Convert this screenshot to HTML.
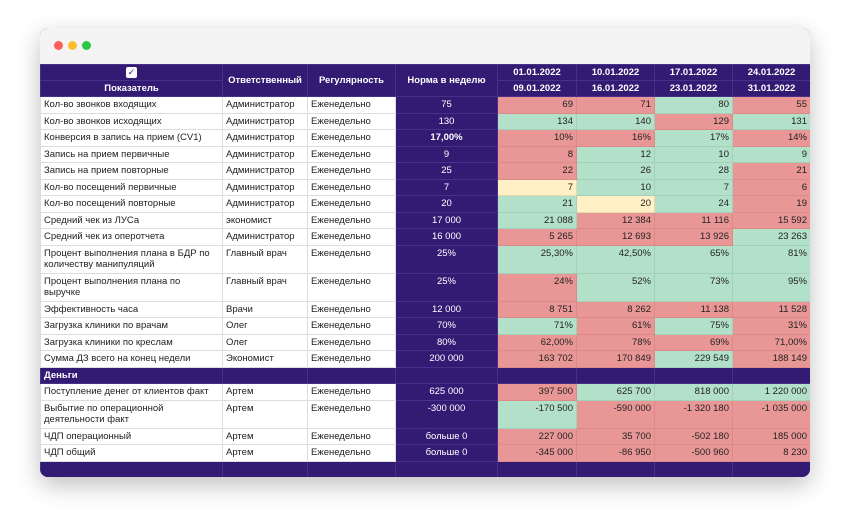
<!DOCTYPE html>
<html><head><meta charset="utf-8"><style>
body{margin:0;width:850px;height:530px;background:#fff;font-family:"Liberation Sans","DejaVu Sans",sans-serif;overflow:hidden;position:relative}
.win{position:absolute;left:40px;top:28px;width:770px;height:449px;border-radius:8px;overflow:hidden;background:#331b74;box-shadow:0 8px 24px rgba(0,0,0,.25)}
.bar{height:36px;background:#f4f4f4;position:relative}
.dot{position:absolute;top:13px;width:9px;height:9px;border-radius:50%}
table{border-collapse:collapse;table-layout:fixed;width:770px;font-size:9.5px;color:#222}
tr{height:16.5px}
td{padding:0 3px;border:1px solid #ddd;line-height:11px;overflow:hidden;white-space:nowrap;background:#fff}
td.w{white-space:normal}
th{background:#331b74;color:#fff;font-weight:bold;font-size:9.5px;border:1px solid #46308a;padding:0;line-height:11px}
tr.h{height:16px}
.n{background:#331b74;color:#fff;text-align:center;border-color:#46308a}
.r,.g,.y{text-align:right}
.r{background:#e99796;border-color:#dc8a89}
.g{background:#b3e0c9;border-color:#a3d0b9}
.y{background:#fff0c6;border-color:#ead9ae}
tr.t{height:28px}
tr.t td{vertical-align:top;padding-top:2px}
.sec td{background:#331b74;color:#fff;font-weight:bold;border-color:#46308a}
.ft{height:16px}
.ft td{background:#331b74;border-color:#46308a}
</style></head><body>
<div class="win">
<div class="bar"><div class="dot" style="left:14px;background:#fe5f57"></div><div class="dot" style="left:28px;background:#febc2e"></div><div class="dot" style="left:42px;background:#28c840"></div></div>
<table>
<colgroup><col style="width:182px"><col style="width:85px"><col style="width:88px"><col style="width:102px"><col style="width:79px"><col style="width:78px"><col style="width:78px"><col style="width:78px"></colgroup>
<tr class="h"><th><span style="display:inline-block;width:11px;height:11px;background:#fff;color:#331b74;font-size:9px;line-height:11px;border-radius:2px">✓</span></th><th rowspan="2">Ответственный</th><th rowspan="2">Регулярность</th><th rowspan="2">Норма в неделю</th><th>01.01.2022</th><th>10.01.2022</th><th>17.01.2022</th><th>24.01.2022</th></tr>
<tr class="h"><th>Показатель</th><th>09.01.2022</th><th>16.01.2022</th><th>23.01.2022</th><th>31.01.2022</th></tr>
<tr><td>Кол-во звонков входящих</td><td>Администратор</td><td>Еженедельно</td><td class="n">75</td><td class="r">69</td><td class="r">71</td><td class="g">80</td><td class="r">55</td></tr>
<tr><td>Кол-во звонков исходящих</td><td>Администратор</td><td>Еженедельно</td><td class="n">130</td><td class="g">134</td><td class="g">140</td><td class="r">129</td><td class="g">131</td></tr>
<tr><td>Конверсия в запись на прием (CV1)</td><td>Администратор</td><td>Еженедельно</td><td class="n"><b>17,00%</b></td><td class="r">10%</td><td class="r">16%</td><td class="g">17%</td><td class="r">14%</td></tr>
<tr><td>Запись на прием первичные</td><td>Администратор</td><td>Еженедельно</td><td class="n">9</td><td class="r">8</td><td class="g">12</td><td class="g">10</td><td class="g">9</td></tr>
<tr><td>Запись на прием повторные</td><td>Администратор</td><td>Еженедельно</td><td class="n">25</td><td class="r">22</td><td class="g">26</td><td class="g">28</td><td class="r">21</td></tr>
<tr><td>Кол-во посещений первичные</td><td>Администратор</td><td>Еженедельно</td><td class="n">7</td><td class="y">7</td><td class="g">10</td><td class="g">7</td><td class="r">6</td></tr>
<tr><td>Кол-во посещений повторные</td><td>Администратор</td><td>Еженедельно</td><td class="n">20</td><td class="g">21</td><td class="y">20</td><td class="g">24</td><td class="r">19</td></tr>
<tr><td>Средний чек из ЛУСа</td><td>экономист</td><td>Еженедельно</td><td class="n">17 000</td><td class="g">21 088</td><td class="r">12 384</td><td class="r">11 116</td><td class="r">15 592</td></tr>
<tr><td>Средний чек из оперотчета</td><td>Администратор</td><td>Еженедельно</td><td class="n">16 000</td><td class="r">5 265</td><td class="r">12 693</td><td class="r">13 926</td><td class="g">23 263</td></tr>
<tr class="t"><td class="w">Процент выполнения плана в БДР по количеству манипуляций</td><td>Главный врач</td><td>Еженедельно</td><td class="n">25%</td><td class="g">25,30%</td><td class="g">42,50%</td><td class="g">65%</td><td class="g">81%</td></tr>
<tr class="t"><td class="w">Процент выполнения плана по выручке</td><td>Главный врач</td><td>Еженедельно</td><td class="n">25%</td><td class="r">24%</td><td class="g">52%</td><td class="g">73%</td><td class="g">95%</td></tr>
<tr><td>Эффективность часа</td><td>Врачи</td><td>Еженедельно</td><td class="n">12 000</td><td class="r">8 751</td><td class="r">8 262</td><td class="r">11 138</td><td class="r">11 528</td></tr>
<tr><td>Загрузка клиники по врачам</td><td>Олег</td><td>Еженедельно</td><td class="n">70%</td><td class="g">71%</td><td class="r">61%</td><td class="g">75%</td><td class="r">31%</td></tr>
<tr><td>Загрузка клиники по креслам</td><td>Олег</td><td>Еженедельно</td><td class="n">80%</td><td class="r">62,00%</td><td class="r">78%</td><td class="r">69%</td><td class="r">71,00%</td></tr>
<tr><td>Сумма ДЗ всего на конец недели</td><td>Экономист</td><td>Еженедельно</td><td class="n">200 000</td><td class="r">163 702</td><td class="r">170 849</td><td class="g">229 549</td><td class="r">188 149</td></tr>
<tr class="sec"><td>Деньги</td><td></td><td></td><td></td><td></td><td></td><td></td><td></td></tr>
<tr><td>Поступление денег от клиентов факт</td><td>Артем</td><td>Еженедельно</td><td class="n">625 000</td><td class="r">397 500</td><td class="g">625 700</td><td class="g">818 000</td><td class="g">1 220 000</td></tr>
<tr class="t"><td class="w">Выбытие по операционной деятельности факт</td><td>Артем</td><td>Еженедельно</td><td class="n">-300 000</td><td class="g">-170 500</td><td class="r">-590 000</td><td class="r">-1 320 180</td><td class="r">-1 035 000</td></tr>
<tr><td>ЧДП операционный</td><td>Артем</td><td>Еженедельно</td><td class="n">больше 0</td><td class="r">227 000</td><td class="r">35 700</td><td class="r">-502 180</td><td class="r">185 000</td></tr>
<tr><td>ЧДП общий</td><td>Артем</td><td>Еженедельно</td><td class="n">больше 0</td><td class="r">-345 000</td><td class="r">-86 950</td><td class="r">-500 960</td><td class="r">8 230</td></tr>
<tr class="ft"><td></td><td></td><td></td><td></td><td></td><td></td><td></td><td></td></tr>
</table>
</div>
</body></html>
